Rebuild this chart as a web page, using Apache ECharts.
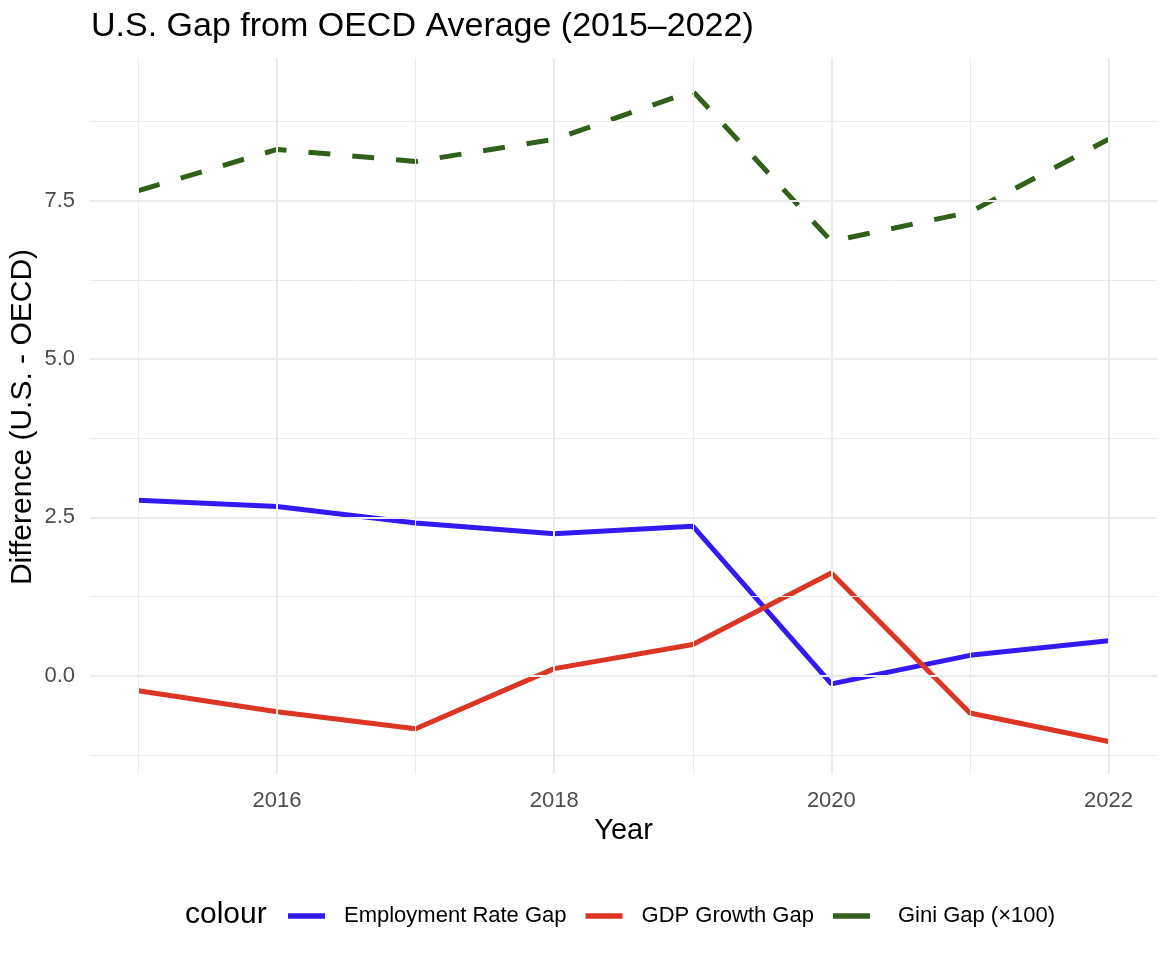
<!DOCTYPE html>
<html>
<head>
<meta charset="utf-8">
<script src="https://cdn.jsdelivr.net/npm/echarts@6/dist/echarts.min.js"></script>
<style>
html,body{margin:0;padding:0;background:#fff;}
#chart{width:1170px;height:956px;}
</style>
</head>
<body>
<div id="chart"></div>
<script>
// ---- data ----
const years = [2015, 2016, 2017, 2018, 2019, 2020, 2021, 2022];
const employmentGap = [2.77, 2.67, 2.41, 2.24, 2.36, -0.13, 0.32, 0.55];
const gdpGap = [-0.24, -0.57, -0.84, 0.11, 0.49, 1.62, -0.59, -1.04];
const giniGap = [7.66, 8.31, 8.12, 8.47, 9.23, 6.86, 7.32, 8.47];
const seriesNames = ['Employment Rate Gap', 'GDP Growth Gap', 'Gini Gap (×100)'];
const xTickLabels = [2016, 2018, 2020, 2022];
const xMinorGrid = [2015, 2017, 2019, 2021];
const yTickLabels = [0, 2.5, 5, 7.5];
const yMinorGrid = [-1.25, 1.25, 3.75, 6.25, 8.75];

const colors = ['#3319F2', '#DC3524', '#31601A'];
const FONT = 'Liberation Sans, Arial, sans-serif';

const pairs = arr => years.map((y, i) => [y, arr[i]]);

const majorStyle = { color: '#EBEBEB', width: 2, type: 'solid' };
const minorStyle = { color: '#EBEBEB', width: 1, type: 'solid' };
const gridLines = []
  .concat(yMinorGrid.map(v => ({ yAxis: v, lineStyle: minorStyle })))
  .concat(xMinorGrid.map(v => ({ xAxis: v, lineStyle: minorStyle })))
  .concat(yTickLabels.map(v => ({ yAxis: v, lineStyle: majorStyle })))
  .concat(xTickLabels.map(v => ({ xAxis: v, lineStyle: majorStyle })));

const legendTextPad = [14, 14, 23];

const chart = echarts.init(document.getElementById('chart'), null, { renderer: 'canvas' });
chart.setOption({
  animation: false,
  backgroundColor: '#ffffff',
  textStyle: { fontFamily: FONT },
  title: {
    text: 'U.S. Gap from OECD Average (2015–2022)',
    left: 86, top: 5,
    textStyle: { fontSize: 34, fontWeight: 'normal', color: '#000', fontFamily: FONT }
  },
  grid: { left: 90, right: 13, top: 58, bottom: 182, containLabel: false, outerBoundsMode: 'none' },
  xAxis: {
    type: 'value', min: 2014.65, max: 2022.35,
    name: 'Year', nameLocation: 'middle', nameGap: 42,
    nameTextStyle: { fontSize: 29, color: '#000', fontFamily: FONT },
    axisLine: { show: false }, axisTick: { show: false }, splitLine: { show: false },
    axisLabel: {
      customValues: xTickLabels, fontSize: 22, color: '#4D4D4D', margin: 16,
      fontFamily: FONT, formatter: v => String(v)
    }
  },
  yAxis: {
    type: 'value', min: -1.554, max: 9.754,
    axisLine: { show: false }, axisTick: { show: false }, splitLine: { show: false },
    axisLabel: {
      customValues: yTickLabels, fontSize: 22, color: '#4D4D4D', margin: 15,
      fontFamily: FONT, formatter: v => Number(v).toFixed(1)
    }
  },
  legend: {
    left: 288, top: 905, padding: 0,
    itemWidth: 37, itemHeight: 5.5, itemGap: 19,
    textStyle: { fontSize: 22, color: '#000', fontFamily: FONT, padding: [0, 0, 0, 14] },
    data: seriesNames.map((n, i) => ({
      name: n, icon: 'rect', itemStyle: { color: colors[i] },
      textStyle: { fontSize: 22, color: '#000', fontFamily: FONT, padding: [0, 0, 0, legendTextPad[i]] }
    }))
  },
  graphic: [
    {
      type: 'text', left: 185, top: 900,
      style: { text: 'colour', fontSize: 30, fill: '#000', fontFamily: FONT }
    },
    {
      type: 'text', x: 23, y: 417, rotation: Math.PI / 2,
      style: { text: 'Difference (U.S. - OECD)', fontSize: 30, fill: '#000', fontFamily: FONT,
               align: 'center', verticalAlign: 'middle' }
    }
  ],
  series: [
    {
      type: 'line', name: '__grid', data: [], z: 0, silent: true,
      markLine: { silent: true, symbol: ['none', 'none'], label: { show: false }, animation: false, data: gridLines }
    },
    {
      type: 'line', name: seriesNames[0], data: pairs(employmentGap), showSymbol: false, symbol: 'none',
      color: colors[0], lineStyle: { color: colors[0], width: 5, cap: 'butt' }, z: 3
    },
    {
      type: 'line', name: seriesNames[1], data: pairs(gdpGap), showSymbol: false, symbol: 'none',
      color: colors[1], lineStyle: { color: colors[1], width: 5, cap: 'butt' }, z: 3
    },
    {
      type: 'line', name: seriesNames[2], data: pairs(giniGap), showSymbol: false, symbol: 'none',
      color: colors[2], lineStyle: { color: colors[2], width: 5, type: [22, 22], cap: 'butt' }, z: 3
    }
  ]
});
</script>
</body>
</html>
